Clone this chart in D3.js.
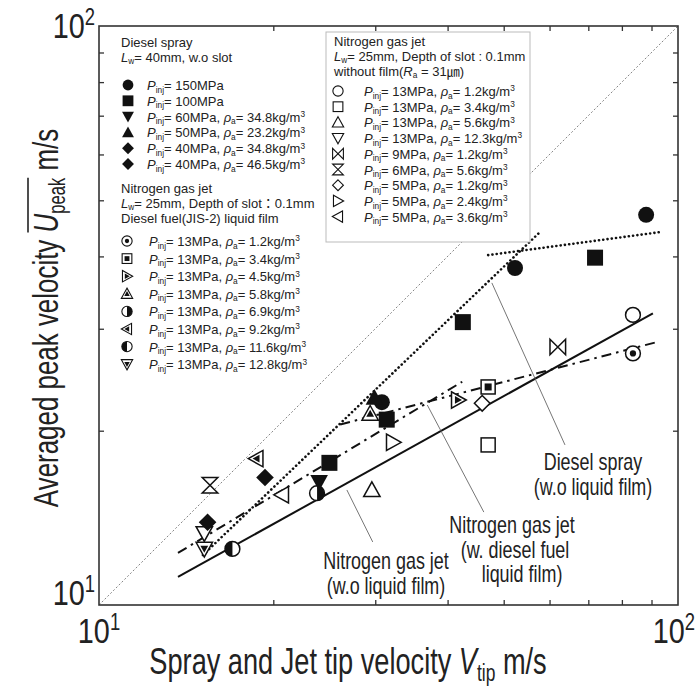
<!DOCTYPE html>
<html>
<head>
<meta charset="utf-8">
<script src="https://cdn.jsdelivr.net/npm/d3@7"></script>
<style>body{margin:0;background:#fff}</style>
</head>
<body>
<script>
// Peak velocity vs tip velocity, log-log

// Diesel spray (filled markers)
const dieselPinj = [150, 100, 60, 50, 40, 40];
const dieselRho = [null, null, 34.8, 23.2, 34.8, 46.5];
const dieselMarker = ["circleF", "squareF", "triDownF", "triUpF", "diamondF", "diamondF"];
const dieselData = [
  [[88.1, 47.2], [52.3, 38.2], [30.8, 22.4]],
  [[71.9, 39.8], [42.5, 30.8], [31.4, 20.9], [25.0, 17.6]],
  [[24.0, 16.3]],
  [[29.9, 22.8]],
  [[19.35, 16.6]],
  [[15.4, 13.9]]
];

// Nitrogen gas jet with diesel liquid film
const filmPinj = [13, 13, 13, 13, 13, 13, 13, 13];
const filmRho = [1.2, 3.4, 4.5, 5.8, 6.9, 9.2, 11.6, 12.8];
const filmMarker = ["circleDot", "squareDot", "triRightDot", "triUpDot", "halfRight", "triLeftDot", "halfLeft", "triDownDot"];
const filmData = [[83.6, 27.2], [47.0, 23.8], [41.7, 22.6], [29.4, 21.4], [23.8, 15.6], [18.7, 17.9], [17.0, 12.5], [15.2, 12.5]];

// Nitrogen gas jet without film
const noFilmPinj = [13, 13, 13, 13, 9, 6, 5, 5, 5];
const noFilmRho = [1.2, 3.4, 5.6, 12.3, 1.2, 5.6, 1.2, 2.4, 3.6];
const noFilmMarker = ["circleO", "squareO", "triUpO", "triDownO", "bowtie", "hourglass", "diamondO", "triRightO", "triLeftO"];
const noFilmData = [[83.6, 31.7], [47.0, 18.9], [29.6, 15.8], [15.2, 13.3], [62.0, 27.9], [15.55, 16.1], [45.9, 22.3], [32.2, 19.1], [20.7, 15.5]];

// fitted lines (x, y pairs)
const diagonal = [[10, 10], [100, 100]];
const fitNoFilm = [[13.69, 11.18], [90.5, 31.9]];
const fitDieselLow = [[15.12, 12.2], [57.8, 44.1]];
const fitDieselHigh = [[47.0, 40.2], [93.8, 44.1]];
const fitFilmLow = [[13.69, 12.3], [42.4, 24.3]];
const fitFilmHigh = [[26.1, 20.5], [91.3, 28.4]];

// leader lines for the annotations
const leaderDiesel = [[47.7, 36.0], [63.8, 18.9]];
const leaderFilm = [[36.9, 22.15], [46.2, 14.47]];
const leaderNoFilm = [[26.8, 15.8], [29.7, 12.85]];

const minorTicks = [20, 30, 40, 50, 60, 70, 80, 90];

const w = 696, h = 689;
const mLeft = 99, mRight = 678, mTop = 26, mBottom = 605;

const x = d3.scaleLog().domain([10, 100]).range([mLeft, mRight]);
const y = d3.scaleLog().domain([10, 100]).range([mBottom, mTop]);

const svg = d3.select("body").append("svg")
  .attr("width", w).attr("height", h)
  .style("font-family", "'Liberation Sans', Arial, 'Noto Sans CJK JP', sans-serif");

// rich text helper: parts = [[text, style]], style "", "it", "sub", "sup"
function rich(text, parts, size, subShift) {
  let shift = 0;
  parts.forEach(([t, st]) => {
    const ts = text.append("tspan").text(t);
    let target = 0;
    if (st === "sub") { target = size * (subShift || 0.2); ts.attr("font-size", size * 0.64); }
    if (st === "sup") { target = -size * 0.36; ts.attr("font-size", size * 0.64); }
    if (st === "it") ts.attr("font-style", "italic");
    ts.attr("dy", target - shift);
    shift = target;
  });
  return text;
}

// marker shapes
function tri(dir, s) {
  const pts = {
    up: [[0, -s], [s, s * 0.8], [-s, s * 0.8]],
    down: [[0, s], [s, -s * 0.8], [-s, -s * 0.8]],
    right: [[s, 0], [-s * 0.8, -s], [-s * 0.8, s]],
    left: [[-s, 0], [s * 0.8, -s], [s * 0.8, s]]
  }[dir];
  return "M" + pts.map(p => p.join(",")).join("L") + "Z";
}
function marker(g, type, s) {
  const k = "#111";
  const sw = s > 6 ? 1.5 : 1.1;
  const open = sel => sel.attr("fill", "#fff").attr("stroke", k).attr("stroke-width", sw);
  const dirs = { Up: "up", Down: "down", Right: "right", Left: "left" };
  const m = type.match(/^tri(Up|Down|Right|Left)(F|O|Dot)$/);
  if (m) {
    const d = dirs[m[1]];
    if (m[2] === "F") g.append("path").attr("d", tri(d, s * 1.1)).attr("fill", k);
    else {
      open(g.append("path").attr("d", tri(d, s * 1.05)));
      if (m[2] === "Dot") g.append("path").attr("d", tri(d, s * 0.5)).attr("fill", k);
    }
    return;
  }
  switch (type) {
    case "circleF": g.append("circle").attr("r", s).attr("fill", k); break;
    case "squareF": g.append("rect").attr("x", -s).attr("y", -s).attr("width", 2 * s).attr("height", 2 * s).attr("fill", k); break;
    case "diamondF": g.append("path").attr("d", `M0,${-s * 1.1}L${s * 1.1},0L0,${s * 1.1}L${-s * 1.1},0Z`).attr("fill", k); break;
    case "circleO": open(g.append("circle").attr("r", s * 0.95)); break;
    case "circleDot":
      open(g.append("circle").attr("r", s * 0.95));
      g.append("circle").attr("r", s * 0.4).attr("fill", k); break;
    case "squareO": open(g.append("rect").attr("x", -s * 0.9).attr("y", -s * 0.9).attr("width", 1.8 * s).attr("height", 1.8 * s)); break;
    case "squareDot":
      open(g.append("rect").attr("x", -s * 0.9).attr("y", -s * 0.9).attr("width", 1.8 * s).attr("height", 1.8 * s));
      g.append("rect").attr("x", -s * 0.45).attr("y", -s * 0.45).attr("width", 0.9 * s).attr("height", 0.9 * s).attr("fill", k); break;
    case "diamondO": open(g.append("path").attr("d", `M0,${-s}L${s},0L0,${s}L${-s},0Z`)); break;
    case "halfRight":
      open(g.append("circle").attr("r", s * 0.95));
      g.append("path").attr("d", `M0,${-s * 0.95}A${s * 0.95},${s * 0.95} 0 0 1 0,${s * 0.95}Z`).attr("fill", k); break;
    case "halfLeft":
      open(g.append("circle").attr("r", s * 0.95));
      g.append("path").attr("d", `M0,${-s * 0.95}A${s * 0.95},${s * 0.95} 0 0 0 0,${s * 0.95}Z`).attr("fill", k); break;
    case "bowtie": open(g.append("path").attr("d", `M${-s},${-s}L${-s},${s}L${s},${-s}L${s},${s}Z`)).attr("stroke-linejoin", "miter"); break;
    case "hourglass": open(g.append("path").attr("d", `M${-s},${-s}L${s},${-s}L${-s},${s}L${s},${s}Z`)).attr("stroke-linejoin", "miter"); break;
  }
}

// lines
const line = d3.line().x(d => x(d[0])).y(d => y(d[1]));
function drawLine(data, width, dash, color) {
  svg.append("path").datum(data).attr("d", line)
    .attr("fill", "none").attr("stroke", color || "#111")
    .attr("stroke-width", width)
    .attr("stroke-dasharray", dash)
    .attr("stroke-linecap", dash && dash.startsWith("0") ? "round" : "butt");
}
drawLine(diagonal, 0.9, "2,2", "#777");
drawLine(fitNoFilm, 2, null);
drawLine(fitDieselLow, 2.6, "0.1,4.2");
drawLine(fitDieselHigh, 2.6, "0.1,4.2");
drawLine(fitFilmLow, 2, "10,5,2.5,5");
drawLine(fitFilmHigh, 2, "10,5,2.5,5");
drawLine(leaderDiesel, 0.9, null, "#666");
drawLine(leaderFilm, 0.9, null, "#666");
drawLine(leaderNoFilm, 0.9, null, "#666");

// points
function drawPoints(pts, type, s) {
  pts.forEach(p => {
    const g = svg.append("g").attr("transform", `translate(${x(p[0])},${y(p[1])})`);
    marker(g, type, s);
  });
}
noFilmData.forEach((p, i) => drawPoints([p], noFilmMarker[i], 7.8));
filmData.forEach((p, i) => drawPoints([p], filmMarker[i], 7.8));
dieselData.forEach((pts, i) => drawPoints(pts, dieselMarker[i], 8));

// frame and inward ticks
svg.append("rect").attr("x", mLeft).attr("y", mTop).attr("width", mRight - mLeft).attr("height", mBottom - mTop)
  .attr("fill", "none").attr("stroke", "#333").attr("stroke-width", 1.6);
const axes = [
  [d3.axisBottom(x), `translate(0,${mBottom})`],
  [d3.axisTop(x), `translate(0,${mTop})`],
  [d3.axisLeft(y), `translate(${mLeft},0)`],
  [d3.axisRight(y), `translate(${mRight},0)`]
];
axes.forEach(([ax, tr]) => {
  svg.append("g").attr("transform", tr)
    .call(ax.tickValues(minorTicks).tickSize(-5).tickFormat(""))
    .call(g => g.select(".domain").remove())
    .call(g => g.selectAll("line").attr("stroke", "#333").attr("stroke-width", 1.3));
});

// condensed big text helper
function bigText(px, py, anchor, size, sx, parts, rot) {
  const g = svg.append("g").attr("transform", `translate(${px},${py})${rot ? " rotate(-90)" : ""} scale(${sx},1)`);
  const t = g.append("text").attr("text-anchor", anchor).attr("font-size", size).attr("fill", "#222");
  rich(t, parts, size);
  return [g, t];
}

// tick labels
bigText(95, 38, "end", 36, 0.8, [["10", ""], ["2", "sup"]]);
bigText(95, 605, "end", 36, 0.8, [["10", ""], ["1", "sup"]]);
bigText(99, 643, "middle", 36, 0.8, [["10", ""], ["1", "sup"]]);
bigText(695, 643, "end", 36, 0.8, [["10", ""], ["2", "sup"]]);

// axis titles
bigText(348, 674, "middle", 36, 0.755, [["Spray and Jet tip velocity ", ""], ["V", "it"], ["tip", "sub"], [" m/s", ""]]);
const [yg, yt] = bigText(58, 318, "middle", 36, 0.72, [["Averaged peak velocity ", ""], ["U", "it"], ["peak", "sub"], [" m/s", ""]], true);
{
  const n = yt.node();
  const s0 = n.getStartPositionOfChar(23).x;
  const s1 = n.getEndPositionOfChar(27).x;
  yg.append("line").attr("x1", s0).attr("x2", s1).attr("y1", -30).attr("y2", -30)
    .attr("stroke", "#222").attr("stroke-width", 1.6);
}

// annotations
function annot(px, py, lines, offs) {
  lines.forEach((l, i) => {
    const g = svg.append("g").attr("transform", `translate(${px + (offs ? offs[i] : 0)},${py + i * 24.5}) scale(0.78,1)`);
    g.append("text").attr("text-anchor", "middle").attr("font-size", 23).attr("fill", "#222").text(l);
  });
}
annot(593, 470, ["Diesel spray", "(w.o liquid film)"]);
annot(512, 533, ["Nitrogen gas jet", "(w. diesel fuel", "liquid film)"], [0, 3, 10]);
annot(386, 569, ["Nitrogen gas jet", "(w.o liquid film)"]);

// legends
const fs = 13;
function legendRows(x0, tx, y0, dy, pinj, rho, marks) {
  pinj.forEach((p, i) => {
    const cy = y0 + i * dy;
    marker(svg.append("g").attr("transform", `translate(${x0},${cy})`), marks[i], 5.4);
    const parts = [["P", "it"], ["inj", "sub"], ["= " + p + "MPa", ""]];
    if (rho[i] != null) parts.push([", ", ""], ["ρ", "it"], ["a", "sub"], ["= " + rho[i] + "kg/m", ""], ["3", "sup"]);
    rich(svg.append("text").attr("x", tx).attr("y", cy + 5).attr("font-size", fs).attr("fill", "#222"), parts, fs);
  });
}
function legendHead(tx, ty, rows) {
  rows.forEach((parts, i) => {
    rich(svg.append("text").attr("x", tx).attr("y", ty + i * 15.2).attr("font-size", fs).attr("fill", "#222"), parts, fs, 0.13);
  });
}

legendHead(121, 47, [[["Diesel spray", ""]], [["L", "it"], ["w", "sub"], ["= 40mm, w.o slot", ""]]]);
legendRows(128, 147, 85, 15.8, dieselPinj, dieselRho, dieselMarker);

legendHead(121, 193, [[["Nitrogen gas jet", ""]], [["L", "it"], ["w", "sub"], ["= 25mm, Depth of slot：0.1mm", ""]], [["Diesel fuel(JIS-2) liquid film", ""]]]);
legendRows(127, 149, 241, 17.6, filmPinj, filmRho, filmMarker);

svg.append("rect").attr("x", 326).attr("y", 32).attr("width", 204).attr("height", 210)
  .attr("fill", "#fff").attr("stroke", "#bbb").attr("stroke-width", 1);
legendHead(334, 46, [[["Nitrogen gas jet", ""]], [["L", "it"], ["w", "sub"], ["= 25mm, Depth of slot : 0.1mm", ""]], [["without film(", ""], ["R", "it"], ["a", "sub"], [" = 31㎛)", ""]]]);
legendRows(338, 364, 91, 15.7, noFilmPinj, noFilmRho, noFilmMarker);
</script>
</body>
</html>
